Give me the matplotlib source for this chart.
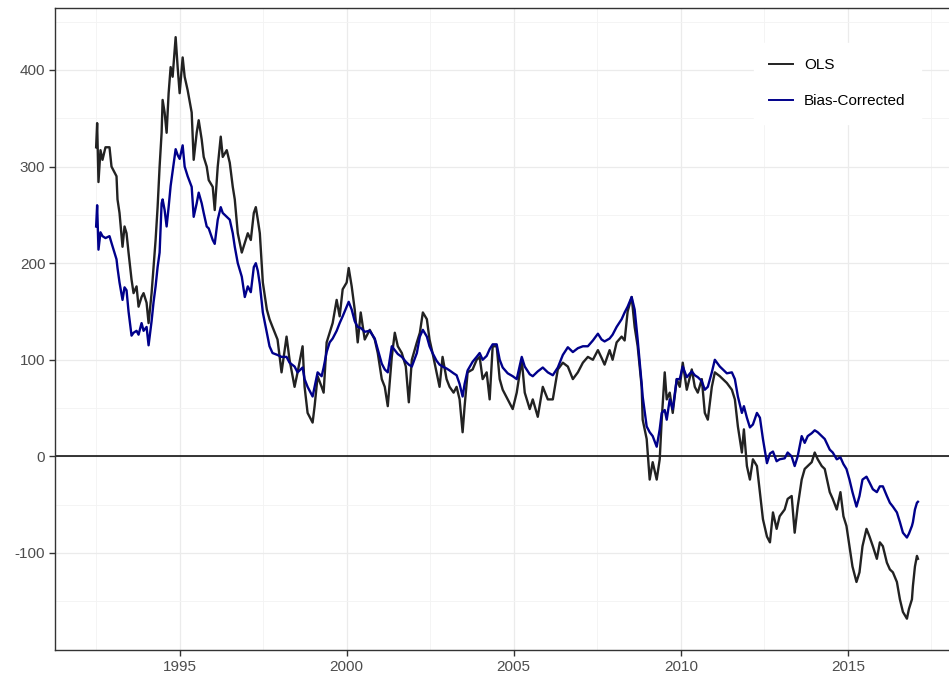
import matplotlib
matplotlib.use("Agg")
import matplotlib.pyplot as plt
from matplotlib.ticker import MultipleLocator

# sampled (by eye) from the reference picture
years = [
    1992.50, 1992.53, 1992.57, 1992.63, 1992.69, 1992.78, 1992.90, 1992.96, 1993.11, 1993.14,
    1993.20, 1993.25, 1993.29, 1993.35, 1993.41, 1993.47, 1993.56, 1993.62, 1993.71, 1993.77,
    1993.86, 1993.92, 1994.01, 1994.07, 1994.16, 1994.22, 1994.28, 1994.34, 1994.40, 1994.46,
    1994.49, 1994.55, 1994.61, 1994.67, 1994.73, 1994.79, 1994.88, 1994.94, 1995.00, 1995.09,
    1995.15, 1995.24, 1995.36, 1995.42, 1995.51, 1995.57, 1995.66, 1995.72, 1995.81, 1995.87,
    1995.99, 1996.05, 1996.14, 1996.23, 1996.29, 1996.41, 1996.50, 1996.59, 1996.65, 1996.74,
    1996.86, 1996.95, 1997.04, 1997.13, 1997.22, 1997.28, 1997.34, 1997.40, 1997.49, 1997.61,
    1997.69, 1997.78, 1997.93, 1998.05, 1998.20, 1998.29, 1998.44, 1998.53, 1998.68, 1998.74,
    1998.83, 1998.98, 1999.04, 1999.13, 1999.25, 1999.31, 1999.40, 1999.49, 1999.58, 1999.70,
    1999.79, 1999.88, 2000.00, 2000.06, 2000.15, 2000.24, 2000.33, 2000.42, 2000.54, 2000.69,
    2000.84, 2000.93, 2001.05, 2001.14, 2001.23, 2001.35, 2001.44, 2001.53, 2001.65, 2001.77,
    2001.86, 2001.95, 2002.10, 2002.19, 2002.28, 2002.40, 2002.48, 2002.57, 2002.69, 2002.78,
    2002.87, 2002.99, 2003.08, 2003.20, 2003.29, 2003.38, 2003.47, 2003.53, 2003.62, 2003.77,
    2003.89, 2003.98, 2004.07, 2004.19, 2004.28, 2004.37, 2004.49, 2004.58, 2004.67, 2004.82,
    2004.97, 2005.09, 2005.24, 2005.33, 2005.48, 2005.57, 2005.72, 2005.87, 2006.02, 2006.17,
    2006.32, 2006.47, 2006.62, 2006.77, 2006.92, 2007.07, 2007.22, 2007.37, 2007.52, 2007.63,
    2007.72, 2007.87, 2007.96, 2008.08, 2008.23, 2008.32, 2008.41, 2008.53, 2008.62, 2008.71,
    2008.83, 2008.86, 2008.98, 2009.07, 2009.16, 2009.28, 2009.37, 2009.43, 2009.52, 2009.58,
    2009.67, 2009.76, 2009.88, 2009.97, 2010.06, 2010.18, 2010.33, 2010.42, 2010.51, 2010.63,
    2010.72, 2010.81, 2010.93, 2011.02, 2011.17, 2011.38, 2011.53, 2011.62, 2011.71, 2011.83,
    2011.89, 2011.98, 2012.07, 2012.16, 2012.28, 2012.37, 2012.46, 2012.58, 2012.67, 2012.76,
    2012.87, 2012.96, 2013.11, 2013.20, 2013.32, 2013.41, 2013.50, 2013.62, 2013.71, 2013.80,
    2013.92, 2014.01, 2014.10, 2014.22, 2014.31, 2014.46, 2014.55, 2014.67, 2014.78, 2014.87,
    2014.96, 2015.05, 2015.14, 2015.26, 2015.35, 2015.44, 2015.56, 2015.65, 2015.75, 2015.87,
    2015.96, 2016.05, 2016.17, 2016.26, 2016.35, 2016.47, 2016.56, 2016.65, 2016.77, 2016.83,
    2016.92, 2016.95, 2017.01, 2017.07, 2017.10,
]

ols = [
    320, 345, 284, 317, 307, 320, 320, 300, 290, 266,
    252, 232, 217, 238, 231, 211, 183, 169, 176, 155,
    165, 169, 159, 138, 169, 196, 224, 258, 300, 335,
    369, 356, 335, 376, 403, 393, 434, 403, 376, 413,
    393, 379, 356, 307, 335, 348, 328, 310, 300, 286,
    279, 255, 300, 331, 310, 317, 304, 279, 266, 231,
    211, 221, 231, 224, 252, 258, 245, 231, 180, 152,
    142, 134, 121, 87, 124, 100, 72, 87, 114, 72,
    45, 35, 52, 83, 72, 66, 118, 128, 138, 162,
    145, 173, 180, 195, 176, 152, 118, 149, 121, 131,
    121, 107, 80, 72, 52, 103, 128, 114, 107, 93,
    56, 100, 118, 128, 149, 142, 121, 107, 87, 72,
    103, 80, 72, 66, 72, 59, 25, 52, 87, 90,
    100, 103, 80, 87, 59, 114, 114, 80, 69, 59,
    49, 66, 100, 66, 49, 59, 41, 72, 59, 59,
    90, 97, 93, 80, 87, 97, 103, 100, 110, 102,
    95, 110, 100, 118, 124, 120, 150, 165, 134, 114,
    72, 38, 18, -24, -6, -24, -3, 38, 87, 59,
    66, 45, 80, 72, 97, 69, 90, 72, 66, 80,
    45, 38, 72, 87, 83, 76, 69, 59, 31, 4,
    28, -10, -24, -3, -10, -37, -65, -83, -89, -58,
    -75, -62, -55, -44, -41, -79, -52, -24, -13, -10,
    -6, 4, -3, -10, -13, -37, -44, -55, -37, -62,
    -72, -93, -114, -130, -120, -93, -75, -83, -93, -106,
    -89, -93, -110, -117, -120, -130, -148, -161, -168, -158,
    -148, -134, -114, -103, -106,
]

bias_corrected = [
    238, 260, 214, 232, 228, 226, 228, 221, 204, 195,
    180, 170, 162, 175, 172, 150, 125, 128, 130, 126,
    138, 130, 134, 115, 140, 160, 176, 196, 211, 262,
    266, 255, 238, 258, 280, 295, 318, 312, 308, 322,
    300, 290, 279, 248, 262, 273, 262, 252, 238, 236,
    224, 220, 245, 258, 252, 248, 245, 231, 217, 200,
    186, 165, 176, 170, 196, 200, 192, 178, 149, 128,
    114, 107, 105, 103, 103, 97, 93, 87, 92, 80,
    72, 62, 72, 87, 83, 92, 108, 118, 122, 130,
    138, 145, 155, 160, 152, 140, 134, 133, 129, 130,
    122, 111, 96, 90, 87, 114, 110, 106, 103, 98,
    95, 93, 107, 124, 131, 124, 114, 107, 99, 95,
    93, 91, 89, 86, 84, 75, 62, 75, 89, 98,
    103, 107, 100, 104, 111, 116, 116, 100, 92, 86,
    83, 80, 103, 93, 85, 83, 88, 92, 87, 84,
    92, 105, 113, 108, 112, 114, 114, 120, 127, 121,
    119, 122, 126, 134, 142, 149, 155, 165, 152, 121,
    75, 62, 31, 25, 21, 10, 28, 45, 48, 38,
    59, 49, 80, 80, 93, 82, 88, 84, 82, 78,
    69, 72, 87, 100, 93, 86, 87, 80, 62, 45,
    52, 40, 30, 33, 45, 40, 18, -7, 3, 5,
    -5, -3, -2, 4, 0, -10, 0, 21, 14, 21,
    24, 27, 25, 21, 18, 7, 4, -3, -1, -8,
    -13, -24, -37, -52, -41, -24, -21, -27, -34, -37,
    -31, -31, -41, -48, -52, -58, -68, -79, -84, -80,
    -72, -68, -55, -48, -47,
]

x_ticks = [1995, 2000, 2005, 2010, 2015]
y_ticks = [-100, 0, 100, 200, 300, 400]


def main():
    plt.rcParams["font.family"] = ["Liberation Sans", "DejaVu Sans"]
    plt.rcParams["axes.unicode_minus"] = False

    fig = plt.figure(figsize=(9.49, 6.80), dpi=100)
    ax = fig.add_axes([0.058, 0.044, 0.948, 0.944])

    ax.plot(years, ols, color="#222222", linewidth=1.7, label="OLS", zorder=3)
    ax.plot(years, bias_corrected, color="#00008B", linewidth=1.7, label="Bias-Corrected", zorder=3)
    ax.axhline(0, color="black", linewidth=1.1, zorder=2)

    ax.set_xlim(1991.27, 2018.2)
    ax.set_ylim(-200.5, 464)
    ax.set_xticks(x_ticks)
    ax.set_yticks(y_ticks)
    ax.xaxis.set_minor_locator(MultipleLocator(2.5))
    ax.yaxis.set_minor_locator(MultipleLocator(50))

    ax.grid(which="major", color="#ebebeb", linewidth=0.9, zorder=0)
    ax.grid(which="minor", color="#f3f3f3", linewidth=0.6, zorder=0)
    ax.set_axisbelow(True)

    ax.tick_params(axis="both", which="major", length=4, width=1, color="#333333",
                   labelcolor="#4d4d4d", labelsize=11, pad=3)
    ax.tick_params(axis="both", which="minor", length=0)
    for side in ["left", "bottom", "top", "right"]:
        ax.spines[side].set_color("#333333")
        ax.spines[side].set_linewidth(1.0)

    leg = fig.legend(
        loc="upper left",
        bbox_to_anchor=(0.786, 0.948),
        frameon=True,
        fontsize=11,
        handlelength=1.6,
        handletextpad=0.7,
        labelspacing=1.45,
        borderpad=1.0,
        fancybox=False,
    )
    leg.get_frame().set_facecolor("white")
    leg.get_frame().set_edgecolor("white")
    leg.get_frame().set_alpha(1.0)
    for line in leg.get_lines():
        line.set_linewidth(1.4)

    fig.savefig("out.png", dpi=100)
    plt.close(fig)


if __name__ == "__main__":
    main()
